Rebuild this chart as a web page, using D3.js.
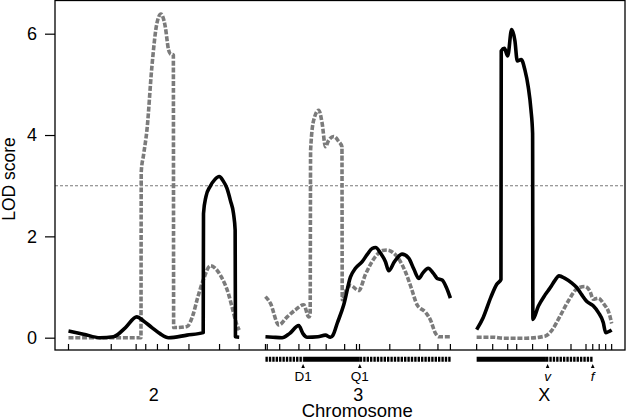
<!DOCTYPE html>
<html><head><meta charset="utf-8">
<script src="https://cdn.jsdelivr.net/npm/d3@7"></script>
<style>body{margin:0;background:#fff}svg{display:block}text{font-family:"Liberation Sans",Arial,Helvetica,sans-serif;fill:#000}</style>
</head><body><svg id="c" width="626" height="419"></svg>
<script>
// ---- data ----
const chromosomes = ["2", "3", "X"];
const chromLengths = [113.8, 123.7, 90];          // cM
const markers2 = [0, 28.5, 45.1, 51.5, 59.3, 66.6, 80.3, 100.7, 113.8];
const markers3 = [0, 1.2, 9.5, 22.3, 29.5, 40.5, 52.8, 60.7, 62.7, 82.9, 102.9, 115, 123.3];
const markersX = [0, 10.7, 20.7, 26.7, 37.3, 47.3, 62.9, 72.9, 77.4, 81.7, 86, 90];
const yTicks = [0, 2, 4, 6];
const threshold = 3;

// LOD curves: [cM, LOD]
const solid2 = [[0,0.13],[10,0.07],[21,0.0],[30,0.02],[38,0.2],[45.5,0.41],[50,0.33],[55.6,0.2],[61,0.08],[66.7,0.0],[79,0.05],[89.8,0.1],[90,2.45],[91.6,2.78],[94.5,2.99],[97.5,3.12],[100.5,3.18],[103,3.1],[105.6,2.95],[108,2.7],[110,2.45],[111.1,2.12],[111.3,0.02],[113.8,0.01]];
const dashed2 = [[0,0],[20,0],[40,0],[48.3,0],[48.5,3.28],[50,3.6],[52.3,4.1],[55.6,5.35],[58.9,6.2],[61.6,6.39],[64.5,6.14],[66.7,5.68],[68,5.6],[69.9,5.58],[70.1,0.2],[72,0.2],[79,0.22],[83,0.45],[86,0.78],[90,1.15],[94.5,1.42],[97.5,1.38],[101.5,1.22],[106.7,0.86],[109.5,0.55],[112.3,0.25],[113.8,0.15]];
const solid3 = [[0,0.02],[5,0.01],[11.1,0.0],[16,0.08],[22.2,0.24],[25,0.08],[27.8,0.01],[35,0.02],[40,0.05],[43.3,0.01],[45,0.05],[47.8,0.28],[52.2,0.65],[56.7,1.2],[60,1.37],[64.5,1.5],[68,1.65],[71.1,1.76],[73.5,1.78],[76.7,1.67],[80,1.5],[82.2,1.32],[86,1.5],[91.1,1.65],[95.5,1.57],[99,1.35],[102.2,1.17],[105,1.28],[108.5,1.37],[112,1.27],[114.5,1.17],[117.8,1.14],[120.5,1.0],[123.3,0.78]];
const dashed3 = [[0,0.81],[3.3,0.68],[8.9,0.25],[14.5,0.41],[20,0.55],[25.5,0.65],[28.9,0.41],[29.8,0.45],[30.1,3.7],[32.2,4.3],[35.5,4.49],[37.8,4.23],[40,3.77],[42.2,3.9],[45.5,3.97],[48.9,3.87],[51,3.77],[51.2,0.75],[54,0.95],[56.7,1.03],[62.2,0.93],[66.7,1.25],[73.3,1.6],[78,1.72],[81.1,1.73],[85.5,1.67],[93.3,1.3],[97,1.0],[101.1,0.65],[106.7,0.5],[110,0.35],[113.3,0.09],[115.5,0.02],[123.3,0.02]];
const solidX = [[0,0.16],[4.4,0.4],[9.5,0.8],[13.3,1.05],[16.2,1.15],[16.4,5.66],[18.5,5.71],[20.7,5.56],[23.3,6.08],[25.5,5.86],[27.1,5.46],[29.7,5.49],[32.2,5.28],[34.4,4.95],[36.2,4.5],[37.3,4.03],[37.5,0.36],[41.1,0.62],[45.5,0.84],[48.9,0.98],[52.2,1.13],[54.9,1.22],[58.9,1.17],[63.3,1.08],[66.7,0.99],[70,0.85],[73.3,0.72],[77.7,0.63],[81.1,0.5],[84.4,0.3],[86,0.1],[90,0.15]];
const dashedX = [[0,0.01],[11,0.01],[18,-0.01],[33,-0.01],[45.5,0.03],[50,0.14],[55.5,0.42],[61,0.72],[66.7,0.96],[72,1.01],[75.5,0.92],[77.7,0.76],[81.1,0.78],[84.4,0.68],[88.9,0.42],[90,0.28]];

// marker map bars under the axis: [chrom, from, to, kind]
const mapBars = [["3",0,25.1,"dash"],["3",25.1,62.9,"solid"],["3",62.9,123.7,"dash"],["X",0,46.2,"solid"],["X",46.2,77.4,"dash"]];
const namedMarkers = [["3",25.1,"D1",false],["3",62.9,"Q1",false],["X",47.3,"v",true],["X",77.4,"f",true]];

// ---- layout ----
const pLeft = 55, pRight = 625, pTop = 0.5, pBottom = 350;
const gap = 17.5, startPad = 9;
const offsets = { "2": startPad };
offsets["3"] = startPad + 113.8 + gap;
offsets["X"] = offsets["3"] + 123.3 + gap;

const x = d3.scaleLinear().domain([0, 380]).range([pLeft, pRight]);
const y = d3.scaleLinear().domain([-0.243, 6.665]).range([pBottom, 0]);
const gx = (c, p) => x(offsets[c] + p);

const svg = d3.select("#c");

// threshold
svg.append("line").attr("x1", pLeft).attr("x2", pRight).attr("y1", y(threshold)).attr("y2", y(threshold))
  .attr("stroke", "#7a7a7a").attr("stroke-width", 1.1).attr("stroke-dasharray", "3,2");

const series = [
  ["2", dashed2, "dashed"], ["3", dashed3, "dashed"], ["X", dashedX, "dashed"],
  ["2", solid2, "solid"], ["3", solid3, "solid"], ["X", solidX, "solid"]
];
series.forEach(([c, data, kind]) => {
  const line = d3.line().x(d => gx(c, d[0])).y(d => y(d[1])).curve(d3.curveMonotoneX);
  svg.append("path").attr("d", line(data)).attr("fill", "none")
    .attr("stroke", kind === "solid" ? "#000" : "#7b7b7b")
    .attr("stroke-width", 3.6)
    .attr("stroke-linejoin", "round")
    .attr("stroke-dasharray", kind === "solid" ? null : "5,1.8");
});

// frame
svg.append("rect").attr("x", pLeft).attr("y", pTop).attr("width", pRight - pLeft).attr("height", pBottom - pTop)
  .attr("fill", "none").attr("stroke", "#000").attr("stroke-width", 1.3);

// y axis
const yAxis = d3.axisLeft(y).tickValues(yTicks).tickSize(10).tickPadding(8).tickFormat(d3.format("d"));
const ya = svg.append("g").attr("transform", `translate(${pLeft},0)`).call(yAxis);
ya.select(".domain").remove();
ya.selectAll("line").attr("stroke", "#000").attr("stroke-width", 1.2);
ya.selectAll("text").attr("font-size", 18).attr("font-family", '"Liberation Sans",Arial,sans-serif').attr("fill", "#000");

svg.append("text").attr("transform", `translate(15,179) rotate(-90)`).attr("text-anchor", "middle")
  .attr("font-size", 17.5).text("LOD score");

// marker ticks (inside plot, pointing up from axis)
[["2", markers2], ["3", markers3], ["X", markersX]].forEach(([c, ms]) => {
  svg.append("g").selectAll("line").data(ms).join("line")
    .attr("x1", d => gx(c, d)).attr("x2", d => gx(c, d))
    .attr("y1", pBottom - 6).attr("y2", pBottom)
    .attr("stroke", "#000").attr("stroke-width", 1.2);
});

// map bars
mapBars.forEach(([c, a, b, kind]) => {
  svg.append("line").attr("x1", gx(c, a)).attr("x2", gx(c, b)).attr("y1", 359.2).attr("y2", 359.2)
    .attr("stroke", "#000").attr("stroke-width", 5)
    .attr("stroke-dasharray", kind === "dash" ? "2.4,1" : null);
});

// named markers with little arrows
namedMarkers.forEach(([c, p, lab, it]) => {
  const xp = gx(c, p);
  svg.append("path").attr("d", `M${xp},364 L${xp - 1.8},368 L${xp + 1.8},368 Z`).attr("fill", "#000");
  svg.append("text").attr("x", xp).attr("y", 381).attr("text-anchor", "middle")
    .attr("font-size", 13.5).attr("font-style", it ? "italic" : "normal").text(lab);
});

// chromosome labels
chromosomes.forEach((c, i) => {
  svg.append("text").attr("x", gx(c, chromLengths[i] / 2)).attr("y", 400.5).attr("text-anchor", "middle")
    .attr("font-size", 18).text(c);
});
svg.append("text").attr("x", gx("3", chromLengths[1] / 2) - 1).attr("y", 417).attr("text-anchor", "middle")
  .attr("font-size", 18.5).text("Chromosome");
</script></body></html>
